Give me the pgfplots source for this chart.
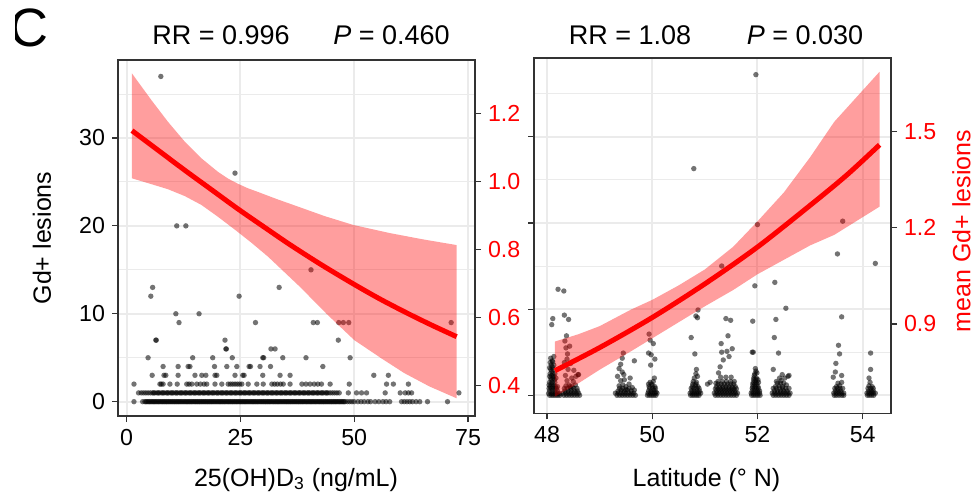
\documentclass[border=0pt]{standalone}
\usepackage{fontspec}
\setmainfont{Liberation Sans}
\usepackage{pgfplots}
\pgfplotsset{compat=1.18}
\definecolor{gridgray}{HTML}{EBEBEB}
\definecolor{framegray}{HTML}{333333}

\pgfplotsset{
  panel/.style={
    scale only axis, width=178.5pt,
    axis line style={framegray, line width=0.75pt},
    tick align=outside, major tick length=3pt,
    tick style={framegray, line width=0.6pt},
    tick label style={font=\fontsize{11.6}{13}\selectfont},
  },
  dots/.style={only marks, mark=*, mark size=1.35pt,
    mark options={fill=black, draw opacity=0, fill opacity=0.55}},
  band/.style={fill=red, fill opacity=0.38, draw=none},
  fit/.style={red, line width=2.5pt, smooth},
}

\begin{document}
\begin{tikzpicture}
\path[use as bounding box] (0,0) rectangle (486.5pt,-246.5pt);

% ---- left panel: points
\begin{axis}[panel, height=178pt, at={(59pt,-30pt)}, anchor=north west,
  xmin=-1.91, xmax=76.54, ymin=-1.63, ymax=38.87,
  xtick={0,25,50,75}, xticklabels={0,25,50,75},
  ytick={0,10,20,30}, yticklabels={0,10,20,30},
  minor ytick={5,15,25,35}, minor tick length=0pt,
  xtick pos=left, ytick pos=left,
  xmajorgrids, ymajorgrids, yminorgrids,
  major grid style={gridgray, line width=1pt},
  minor grid style={gridgray, line width=0.5pt},
]
\addplot[dots] coordinates {
 (1.6,0)(3.5,0)(4,0)(4.5,0)(5,0)(5.5,0)(6,0)(6.5,0)(7,0)(7.5,0)(8,0)(8.5,0)(9,0)(9.5,0)(10,0)
 (10.5,0)(11,0)(11.5,0)(12,0)(12.5,0)(13,0)(13.5,0)(14,0)(14.5,0)(15,0)(15.5,0)(16,0)(16.5,0)
 (17,0)(17.5,0)(18,0)(18.5,0)(19,0)(19.5,0)(20,0)(20.5,0)(21,0)(21.5,0)(22,0)(22.5,0)(23,0)
 (23.5,0)(24,0)(24.5,0)(25,0)(25.5,0)(26,0)(26.5,0)(27,0)(27.5,0)(28,0)(28.5,0)(29,0)(29.5,0)
 (30,0)(30.5,0)(31,0)(31.5,0)(32,0)(32.5,0)(33,0)(33.5,0)(34,0)(34.5,0)(35,0)(35.5,0)(36,0)
 (36.5,0)(37,0)(37.5,0)(38,0)(38.5,0)(39,0)(39.5,0)(40,0)(40.5,0)(41,0)(41.5,0)(42,0)(42.5,0)
 (43,0)(43.5,0)(44,0)(44.5,0)(45,0)(45.5,0)(46,0)(46.5,0)(47,0)(47.5,0)(48,0)(48.5,0)(49,0)
 (49.5,0)(50,0)(50.8,0)(51.5,0)(52.2,0)(53,0)(53.6,0)(54.6,0)(55.4,0)(56.3,0)(57,0)(57.8,0)
 (60.4,0)(61,0)(61.6,0)(62.2,0)(62.8,0)(63.6,0)(64.4,0)(66.1,0)(70.5,0)
 (4.25,0)(4.75,0)(5.25,0)(5.75,0)(6.25,0)(6.75,0)(7.25,0)(7.75,0)(8.25,0)(8.75,0)(9.25,0)
 (9.75,0)(10.25,0)(10.75,0)(11.25,0)(11.75,0)(12.25,0)(12.75,0)(13.25,0)(13.75,0)(14.25,0)
 (14.75,0)(15.25,0)(15.75,0)(16.25,0)(16.75,0)(17.25,0)(17.75,0)(18.25,0)(18.75,0)(19.25,0)
 (19.75,0)(20.25,0)(20.75,0)(21.25,0)(21.75,0)(22.25,0)(22.75,0)(23.25,0)(23.75,0)(24.25,0)
 (24.75,0)(25.25,0)(25.75,0)(26.25,0)(26.75,0)(27.25,0)(27.75,0)(28.25,0)(28.75,0)(29.25,0)
 (29.75,0)(30.25,0)(30.75,0)(31.25,0)(31.75,0)(32.25,0)(32.75,0)(33.25,0)(33.75,0)(34.25,0)
 (34.75,0)(35.25,0)(35.75,0)(36.25,0)(36.75,0)(37.25,0)(37.75,0)(38.25,0)(38.75,0)(39.25,0)
 (39.75,0)(40.25,0)(40.75,0)(41.25,0)(41.75,0)(42.25,0)(42.75,0)(43.25,0)(43.75,0)(44.25,0)
 (44.75,0)(45.25,0)(45.75,0)(46.25,0)(46.75,0)(47.25,0)(47.75,0)
 (2.6,1)(3.2,1)(3.7,1)(4.2,1)(4.7,1)(5.2,1)(5.7,1)(6.2,1)(6.7,1)(7.2,1)(7.7,1)(8.2,1)(8.7,1)
 (9.2,1)(9.7,1)(10.2,1)(10.7,1)(11.2,1)(11.7,1)(12.2,1)(12.7,1)(13.2,1)(13.7,1)(14.2,1)(14.7,1)
 (15.2,1)(15.7,1)(16.2,1)(16.7,1)(17.2,1)(17.7,1)(18.2,1)(18.7,1)(19.2,1)(19.7,1)(20.2,1)(20.7,1)
 (21.2,1)(21.7,1)(22.2,1)(22.7,1)(23.2,1)(23.7,1)(24.2,1)(24.7,1)(25.2,1)(25.7,1)(26.2,1)(26.7,1)
 (27.2,1)(27.7,1)(28.2,1)(28.7,1)(29.2,1)(29.7,1)(30.2,1)(30.7,1)(31.2,1)(31.7,1)(32.2,1)(32.7,1)
 (33.2,1)(33.7,1)(34.2,1)(34.7,1)(35.2,1)(35.7,1)(36.2,1)(36.7,1)(37.2,1)(37.7,1)(38.2,1)(38.7,1)
 (39.2,1)(39.7,1)(40.2,1)(40.7,1)(41.2,1)(41.7,1)(42.2,1)(42.7,1)(43.2,1)(43.7,1)(44.2,1)(44.7,1)
 (45.2,1)(45.7,1)(46.2,1)(46.7,1)(48.7,1)(50.5,1)(51.6,1)(52.7,1)(56.8,1)(60.1,1)(61.2,1)
 (61.9,1)(62.6,1)(73,1)
 (5.95,1)(6.95,1)(7.95,1)(8.95,1)(9.95,1)(10.95,1)(11.95,1)(12.95,1)(13.95,1)(14.95,1)(15.95,1)
 (16.95,1)(17.95,1)(18.95,1)(19.95,1)(20.95,1)(21.95,1)(22.95,1)(23.95,1)(24.95,1)(25.95,1)
 (26.95,1)(27.95,1)(28.95,1)(29.95,1)(30.95,1)(31.95,1)(32.95,1)(33.95,1)(34.95,1)(35.95,1)
 (36.95,1)(37.95,1)(38.95,1)(39.95,1)(40.95,1)(41.95,1)(42.95,1)(43.95,1)
 (1.6,2)(7.3,2)(7.6,2)(8,2)(9.5,2)(11.1,2)(13.2,2)(13.7,2)(14.3,2)(15.4,2)(16.2,2)(17,2)(17.6,2)
 (19.4,2)(20.9,2)(22.3,2)(22.8,2)(23.3,2)(23.8,2)(24.3,2)(24.8,2)(25.3,2)(26.7,2)(28.6,2)(30,2)
 (31.9,2)(32.5,2)(33.1,2)(33.8,2)(34.4,2)(35.9,2)(38.5,2)(39.4,2)(40.3,2)(41.2,2)(42,2)(42.8,2)
 (44.7,2)(48.9,2)(57.1,2)(58.6,2)(61.9,2)
 (5.6,3)(8.2,3)(8.6,3)(11.3,3)(15,3)(16.5,3)(17.4,3)(19.4,3)(19.8,3)(23.8,3)(25.5,3)(25.8,3)
 (29.9,3)(33.7,3)(35.9,3)(54.3,3)(57.5,3)
 (8,4)(11.3,4)(13.5,4)(13.9,4)(19.3,4)(22,4)(24.2,4)(26.9,4)(27.2,4)(29.3,4)(31.6,4)(43.1,4)
 (4.7,5)(14.5,5)(18.9,5)(23.2,5)(29.9,5)(30.1,5)(34.3,5)(39.4,5)(49.1,5)
 (21.8,6)(21.9,6)(31.7,6)(32.6,6)
 (6.4,7)(6.5,7)(21.6,7)(46.5,7)
 (11.5,9)(28.3,9)(41,9)(41.9,9)(46.6,9)(47.6,9)(48.8,9)(71.3,9)
 (10.8,10)(15.9,10)(5.3,12)(24.7,12)(5.7,13)(33.5,13)(40.5,15)
 (11,20)(13,20)(23.8,26)(7.5,37)
};
\end{axis}

% ---- left panel: fitted mean, band = upper edge then lower edge back
\begin{axis}[panel, height=178pt, at={(59pt,-30pt)}, anchor=north west,
  xmin=-1.91, xmax=76.54, ymin=0.311, ymax=1.3565,
  axis x line=none, axis y line*=right,
  ytick={0.4,0.6,0.8,1.0,1.2}, yticklabels={0.4,0.6,0.8,1.0,1.2},
  yticklabel style={text=red},
]
\addplot[band] coordinates {
 (1.16,1.317)(5.41,1.239)(9.07,1.175)(12.74,1.117)(16.4,1.068)(20.06,1.028)(22.3,1.008)
 (24.46,0.993)(26.6,0.980)(28.85,0.969)(33,0.948)(37.64,0.926)(43.5,0.898)(49.8,0.872)
 (57.9,0.848)(65,0.830)(72.5,0.813)
 (72.5,0.363)(66.5,0.398)(61,0.437)(56,0.480)(50,0.534)(44,0.610)(38.1,0.690)(31.05,0.779)
 (27.4,0.820)(23.7,0.859)(20.06,0.896)(16.4,0.931)(12.74,0.957)(9.07,0.977)(5.41,0.992)
 (1.16,1.009)};
\addplot[fit] coordinates {
 (1.16,1.149)(6.95,1.091)(12.74,1.033)(18.6,0.976)(24.46,0.919)(30.2,0.866)(35.9,0.814)
 (42.8,0.755)(49.8,0.699)(55.6,0.655)(61.5,0.614)(67,0.578)(72.5,0.544)};
\end{axis}

% ---- right panel: points
\begin{axis}[panel, height=177.65pt, at={(267pt,-29pt)}, anchor=north west,
  xmin=47.753, xmax=54.538, ymin=-2.09, ymax=39.13,
  xtick={48,50,52,54}, xticklabels={48,50,52,54},
  ytick={0,10,20,30}, yticklabels={},
  minor ytick={5,15,25,35}, minor tick length=0pt,
  xtick pos=left, ytick pos=left,
  xmajorgrids, ymajorgrids, yminorgrids,
  major grid style={gridgray, line width=1pt},
  minor grid style={gridgray, line width=0.5pt},
]
\addplot[dots] coordinates {
 (48.05,0)(48.09,0)(48.13,0)(48.17,0)(48.21,0)(48.25,0)(48.05,0.5)(48.1,0.5)(48.15,0.5)(48.2,0.5)
 (48.06,1)(48.11,1)(48.16,1)(48.2,1)(48.05,1.5)(48.1,1.5)(48.15,1.5)(48.07,2)(48.12,2)(48.17,2)
 (48.06,2.5)(48.11,2.5)(48.15,2.5)(48.07,3)(48.12,3)(48.08,3.5)(48.13,3.5)(48.1,4)(48.07,4.3)
 (48.13,4.5)(48.11,8.9)(48.09,8.2)
 (48.03,0.2)(48.08,0.2)(48.12,0.2)(48.16,0.2)(48.2,0.2)(48.24,0.2)(48.04,0.8)(48.08,0.8)
 (48.13,0.8)(48.18,0.8)(48.04,1.2)(48.08,1.3)(48.13,1.2)(48.08,1.8)(48.14,1.8)(48.05,2.2)
 (48.09,2.3)(48.13,2.2)(48.09,2.8)(48.05,3.2)(48.1,3.3)(48.06,3.8)(48.11,3.9)
 (48.21,12.3)(48.32,12.1)(48.33,9.3)(48.41,8.8)(48.37,6.9)(48.34,6.3)(48.36,5.5)(48.39,4.8)
 (48.43,5.7)(48.45,3.7)(48.51,2.9)(48.55,2.2)(48.59,2.4)(48.5,1.6)(48.44,1)(48.6,2.4)
 (48.32,0)(48.37,0)(48.42,0)(48.47,0)(48.52,0)(48.57,0)(48.62,0)
 (48.34,0.5)(48.4,0.5)(48.46,0.5)(48.52,0.5)(48.58,0.5)
 (48.36,1.1)(48.42,1.2)(48.48,1)(48.38,1.7)(48.35,2.3)(48.4,3)(48.33,3.8)(48.38,4.2)(48.47,2)(48.54,1.2)
 (48.3,0.25)(48.35,0.25)(48.4,0.25)(48.45,0.25)(48.5,0.25)(48.55,0.25)(48.6,0.25)
 (48.33,0.8)(48.39,0.8)(48.45,0.8)(48.51,0.8)(48.57,0.8)
 (49.33,0)(49.38,0)(49.43,0)(49.48,0)(49.53,0)(49.58,0)(49.63,0)(49.68,0)
 (49.35,0.5)(49.41,0.6)(49.47,0.5)(49.53,0.6)(49.6,0.5)(49.66,0.6)
 (49.37,1.1)(49.44,1.2)(49.5,1)(49.56,1.3)(49.4,1.7)(49.47,1.8)
 (49.45,4.9)(49.43,4.3)(49.4,3.6)(49.37,3.1)(49.43,2.7)(49.46,2.4)(49.34,2.2)(49.66,4)(49.58,2)
 (49.3,0.25)(49.35,0.25)(49.4,0.25)(49.45,0.25)(49.5,0.25)(49.55,0.25)(49.6,0.25)(49.65,0.25)
 (49.38,0.8)(49.44,0.8)(49.5,0.7)(49.56,0.8)(49.62,0.9)
 (49.91,0)(49.95,0)(49.99,0)(50.03,0)(50.07,0)(49.93,0.5)(49.98,0.5)(50.03,0.6)(50.07,0.4)
 (49.94,1)(50,1.1)(50.05,1)(49.96,1.5)(50.02,1.6)(50.04,2)
 (49.94,7.1)(49.96,6.4)(49.93,4.9)(49.98,4.7)(50.05,4.2)(49.97,3.5)(50.02,6)
 (49.92,0.25)(49.97,0.25)(50.01,0.25)(50.05,0.25)(50.09,0.25)(49.95,0.8)(50.01,0.8)(50.06,0.8)
 (49.93,1.3)(49.99,1.3)
 (50.73,0)(50.77,0)(50.81,0)(50.85,0)(50.89,0)(50.75,0.5)(50.8,0.5)(50.85,0.5)(50.9,0.5)
 (50.76,1)(50.82,1.1)(50.87,1)(50.78,1.6)(50.84,1.5)(50.8,2)(50.83,2.5)
 (50.74,6.7)(50.81,4.8)(50.84,3)(50.86,2.2)(51.05,1.3)(50.83,9.2)(50.86,9)(50.87,9.9)(50.79,26.3)
 (50.72,0.25)(50.76,0.25)(50.8,0.25)(50.84,0.25)(50.88,0.25)(50.92,0.25)(50.74,0.8)(50.79,0.8)
 (50.84,0.8)(50.89,0.8)(50.77,1.3)(50.83,1.3)
 (51.2,0)(51.25,0)(51.3,0)(51.35,0)(51.4,0)(51.45,0)(51.5,0)(51.55,0)(51.6,0)
 (51.22,0.5)(51.27,0.5)(51.32,0.5)(51.37,0.5)(51.42,0.5)(51.47,0.5)(51.52,0.5)(51.57,0.5)
 (51.22,1)(51.28,1)(51.34,1)(51.4,1)(51.46,1)(51.52,1)(51.58,1)
 (51.25,1.6)(51.33,1.6)(51.41,1.6)(51.49,1.6)(51.56,1.6)(51.3,2.1)(51.4,2.1)(51.5,2.1)
 (51.32,5)(51.35,4.1)(51.42,5.1)(51.52,5.4)(51.46,4.5)(51.29,3.3)(51.26,2.6)(51.4,8.9)(51.49,8.7)
 (51.44,6.9)(51.31,6)(51.32,15)(51.21,1.4)(51.1,1.5)
 (51.18,0.25)(51.23,0.25)(51.28,0.25)(51.33,0.25)(51.38,0.25)(51.43,0.25)(51.48,0.25)
 (51.53,0.25)(51.58,0.25)(51.62,0.25)(51.2,0.75)(51.25,0.75)(51.3,0.75)(51.35,0.75)(51.4,0.75)
 (51.45,0.75)(51.5,0.75)(51.55,0.75)(51.6,0.75)(51.25,1.3)(51.31,1.3)(51.37,1.3)(51.43,1.3)
 (51.49,1.3)(51.55,1.3)
 (51.89,0)(51.93,0)(51.97,0)(52.01,0)(52.05,0)(51.9,0.5)(51.95,0.5)(52,0.5)(52.04,0.5)
 (51.91,1)(51.96,1)(52.01,1)(51.92,1.5)(51.97,1.5)(52.02,1.5)(51.93,2)(51.98,2)(51.95,2.5)
 (51.99,2.6)(51.96,3.1)(51.91,8.6)(51.95,12.7)(52,19.8)(51.97,37.2)(51.9,5)(51.92,5)
 (51.88,0.25)(51.92,0.25)(51.96,0.25)(52,0.25)(52.04,0.25)(51.9,0.8)(51.94,0.8)(51.98,0.8)
 (52.02,0.8)(51.91,1.3)(51.95,1.3)(51.99,1.3)(51.93,1.8)(51.97,1.8)(52.01,1.8)(51.94,2.3)(51.97,2.8)
 (52.3,0)(52.35,0)(52.4,0)(52.45,0)(52.5,0)(52.55,0)(52.6,0)(52.32,0.5)(52.38,0.5)(52.44,0.5)
 (52.5,0.5)(52.56,0.5)(52.34,1)(52.41,1.1)(52.48,1)(52.55,1.2)(52.36,1.6)(52.45,1.7)(52.52,2)
 (52.58,2.2)(52.6,2.3)(52.47,2.4)(52.42,2)
 (52.33,13.1)(52.35,8.8)(52.54,10.1)(52.32,6.7)(52.4,4.9)(52.3,3)
 (52.28,0.25)(52.33,0.25)(52.38,0.25)(52.43,0.25)(52.48,0.25)(52.53,0.25)(52.58,0.25)
 (52.62,0.25)(52.3,0.8)(52.36,0.8)(52.42,0.8)(52.48,0.8)(52.54,0.8)(52.6,0.8)(52.38,1.4)
 (52.44,1.4)(52.5,1.4)
 (53.46,0)(53.5,0)(53.55,0)(53.6,0)(53.64,0)(53.48,0.5)(53.53,0.5)(53.58,0.5)(53.5,1)(53.56,1.1)
 (53.6,1.5)(53.53,1.4)(53.54,5.8)(53.56,4.8)(53.49,3.7)(53.48,2.7)(53.44,2.1)(53.6,9.1)
 (53.62,20.2)(53.52,16.4)(53.6,2.3)
 (53.45,0.25)(53.5,0.25)(53.55,0.25)(53.6,0.25)(53.64,0.25)(53.47,0.8)(53.52,0.8)(53.57,0.8)
 (53.62,0.8)
 (54.09,0)(54.13,0)(54.17,0)(54.21,0)(54.11,0.5)(54.16,0.5)(54.2,0.5)(54.12,1.1)(54.18,1)
 (54.14,1.5)(54.15,4.9)(54.15,3)(54.12,2)(54.24,15.3)
 (54.08,0.25)(54.12,0.25)(54.16,0.25)(54.2,0.25)(54.24,0.25)(54.1,0.8)(54.15,0.8)(54.2,0.8)
};
\end{axis}

% ---- right panel: fitted mean
\begin{axis}[panel, height=177.65pt, at={(267pt,-29pt)}, anchor=north west,
  xmin=47.753, xmax=54.538, ymin=0.621, ymax=1.730,
  axis x line=none, axis y line*=right,
  ytick={0.9,1.2,1.5}, yticklabels={0.9,1.2,1.5},
  yticklabel style={text=red},
]
\addplot[band] coordinates {
 (48.15,0.845)(48.6,0.868)(49,0.893)(49.6,0.945)(50,0.975)(50.5,1.02)(51,1.07)(51.54,1.141)
 (52,1.22)(52.5,1.31)(53,1.42)(53.46,1.531)(54.32,1.687)
 (54.32,1.266)(53.46,1.178)(53,1.145)(52.5,1.10)(52,1.055)(51.54,1.006)(51,0.955)(50.5,0.905)
 (50,0.855)(49.6,0.815)(49,0.757)(48.6,0.715)(48.15,0.673)};
\addplot[fit] coordinates {
 (48.15,0.754)(49,0.826)(50,0.920)(51,1.025)(52,1.140)(53,1.270)(53.7,1.365)(54.32,1.459)};
\end{axis}

% ---- texts
\begin{scope}
\clip (7.5pt,0pt) rectangle (40pt,-30pt);
\node[font=\fontsize{27}{30}\selectfont, anchor=base east, inner sep=0pt] at (24.5pt,-23pt) {C};
\end{scope}
\node[font=\fontsize{13.5}{15}\selectfont, anchor=base] at (110.5pt,-22pt) {RR = 0.996};
\node[font=\fontsize{13.5}{15}\selectfont, anchor=base] at (195.75pt,-22pt) {\textit{P} = 0.460};
\node[font=\fontsize{13.5}{15}\selectfont, anchor=base] at (315pt,-22pt) {RR = 1.08};
\node[font=\fontsize{13.5}{15}\selectfont, anchor=base] at (402.5pt,-22pt) {\textit{P} = 0.030};
\node[font=\fontsize{12.5}{14}\selectfont, anchor=base] at (148pt,-243pt) {25(OH)D\textsubscript{3} (ng/mL)};
\node[font=\fontsize{12.5}{14}\selectfont, anchor=base] at (353.25pt,-243pt) {Latitude (° N)};
\node[font=\fontsize{12.5}{14}\selectfont, rotate=90] at (21pt,-119pt) {Gd+ lesions};
\node[font=\fontsize{12.5}{14}\selectfont, rotate=90, text=red] at (480.75pt,-115.5pt) {mean Gd+ lesions};
\end{tikzpicture}
\end{document}
